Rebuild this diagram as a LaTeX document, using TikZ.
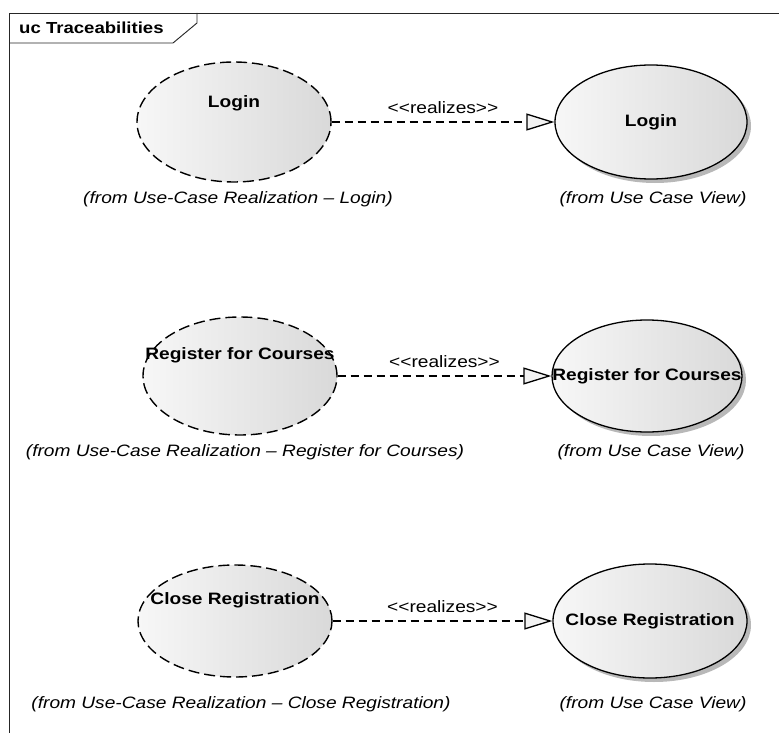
\documentclass[tikz,border=0pt]{standalone}
\usepackage{fontspec}
\setmainfont{Liberation Sans}[FakeStretch=1.16]
\usetikzlibrary{shapes.geometric,arrows.meta,shadows}
\definecolor{ucfillL}{HTML}{F7F7F7}
\definecolor{ucfillR}{HTML}{D9D9D9}
\definecolor{tipfill}{HTML}{F2F2F2}
\begin{document}
\begin{tikzpicture}[x=1pt,y=-1pt,
  usecase/.style={ellipse, inner sep=0pt, draw=black, line width=1.3pt,
    left color=ucfillL, right color=ucfillR},
  realization/.style={usecase, line width=1.4pt, dash pattern=on 11pt off 5pt},
  ucshadow/.style={drop shadow={shadow xshift=4pt, shadow yshift=-4pt,
    fill=black, opacity=0.28}},
  ucname/.style={font=\fontsize{16.5}{19}\selectfont\bfseries, inner sep=0pt},
  fromtxt/.style={font=\fontsize{16.5}{19}\selectfont\itshape, inner sep=0pt},
  stereo/.style={font=\fontsize{16.5}{19}\selectfont, inner sep=0pt},
  realizes/.style={line width=1.3pt, dash pattern=on 8pt off 5pt,
    -{Triangle[length=28pt, width=17pt, fill=tipfill, line width=1.3pt]}},
  frameline/.style={line width=0.9pt, draw=black!85}]

\useasboundingbox (0,0) rectangle (779,733);

% diagram frame with its name tab
\draw[frameline] (9,733) -- (9,13) -- (779,13);
\draw[frameline] (9,43) -- (173,43) -- (197,23) -- (197,13);
\node[ucname, anchor=west, font=\fontsize{16}{18}\selectfont\bfseries] (title) at (19,28) {uc Traceabilities};

% row 1: Login
\node[realization, minimum width=194pt, minimum height=120pt] (l1) at (234,122) {};
\node[ucname] (l1t) at (234,103) {Login};
\node[usecase, ucshadow, minimum width=192pt, minimum height=114pt] (r1) at (651,122) {};
\node[ucname] (r1t) at (r1) {Login};
\draw[realizes] (l1) -- (r1) node[stereo, midway, yshift=14pt] (s1) {<\kern0pt<realizes>\kern0pt>};
\node[fromtxt] (l1f) at (238,199) {(from Use-Case Realization – Login)};
\node[fromtxt] (r1f) at (653,199) {(from Use Case View)};

% row 2: Register for Courses
\node[realization, minimum width=194pt, minimum height=118pt] (l2) at (240,376) {};
\node[ucname] (l2t) at (240,355) {Register for Courses};
\node[usecase, ucshadow, minimum width=190pt, minimum height=112pt] (r2) at (647,376) {};
\node[ucname] (r2t) at (r2) {Register for Courses};
\draw[realizes] (l2) -- (r2) node[stereo, midway, yshift=14pt] (s2) {<\kern0pt<realizes>\kern0pt>};
\node[fromtxt] (l2f) at (245,452) {(from Use-Case Realization – Register for Courses)};
\node[fromtxt] (r2f) at (651,452) {(from Use Case View)};

% row 3: Close Registration
\node[realization, minimum width=194pt, minimum height=112pt] (l3) at (235,621) {};
\node[ucname] (l3t) at (235,600) {Close Registration};
\node[usecase, ucshadow, minimum width=194pt, minimum height=114pt] (r3) at (650,621) {};
\node[ucname] (r3t) at (r3) {Close Registration};
\draw[realizes] (l3) -- (r3) node[stereo, midway, yshift=14pt] (s3) {<\kern0pt<realizes>\kern0pt>};
\node[fromtxt] (l3f) at (241,704) {(from Use-Case Realization – Close Registration)};
\node[fromtxt] (r3f) at (653,704) {(from Use Case View)};
\end{tikzpicture}
\end{document}
